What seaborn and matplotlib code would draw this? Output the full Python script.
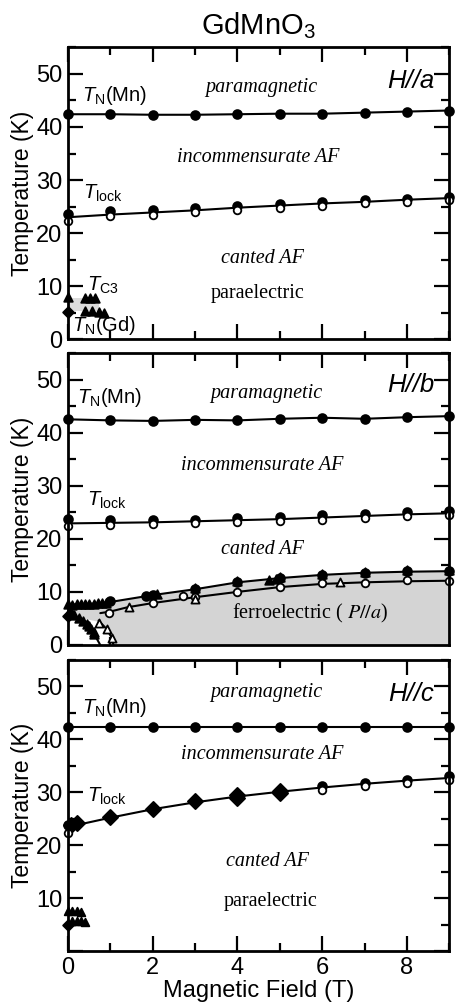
import matplotlib
matplotlib.use("Agg")
import matplotlib.pyplot as plt
from matplotlib.ticker import MultipleLocator, FuncFormatter
import seaborn as sns

# ---------------- H // a ----------------
a_H = [0, 1, 2, 3, 4, 5, 6, 7, 8, 9]
a_tn_T = [42.4, 42.4, 42.3, 42.3, 42.4, 42.5, 42.5, 42.7, 42.9, 43.1]
a_tlock_fill_T = [23.6, 24.1, 24.3, 24.7, 25.2, 25.5, 25.9, 26.2, 26.5, 26.9]
a_tlock_open_T = [22.3, 23.2, 23.5, 24.0, 24.4, 24.8, 25.2, 25.6, 25.9, 26.3]
a_tlock_line_T = [23.0, 23.5, 23.9, 24.3, 24.8, 25.2, 25.6, 25.9, 26.3, 26.6]
a_tc3_H = [0.0, 0.40, 0.52, 0.63]
a_tc3_T = [7.9, 7.7, 7.7, 7.7]
a_tngd_tri_H = [0.40, 0.56, 0.72, 0.85]
a_tngd_tri_T = [5.3, 5.3, 5.2, 5.0]
a_tngd_H = [0.0]
a_tngd_T = [5.1]
a_gray_H = [0.0, 0.72]
a_gray_top = [7.7, 7.7]
a_gray_bot = [5.3, 5.3]

# ---------------- H // b ----------------
b_H = [0, 1, 2, 3, 4, 5, 6, 7, 8, 9]
b_tn_T = [42.5, 42.3, 42.2, 42.4, 42.3, 42.6, 42.8, 42.6, 42.9, 43.1]
b_tlock_fill_T = [23.7, 23.6, 23.6, 23.6, 23.9, 24.1, 24.4, 24.7, 25.0, 25.3]
b_tlock_open_T = [22.4, 22.6, 22.8, 23.0, 23.2, 23.3, 23.6, 24.0, 24.2, 24.5]
b_tlock_line_T = [22.9, 23.0, 23.1, 23.3, 23.5, 23.7, 24.0, 24.3, 24.6, 24.8]
# upper ferroelectric boundary (filled symbols)
b_feup_H = [0.0, 0.3, 0.6, 1.0, 2.0, 3.0, 4.0, 5.0, 6.0, 7.0, 8.0, 9.0]
b_feup_T = [7.6, 7.7, 7.8, 8.1, 9.4, 10.5, 11.8, 12.6, 13.2, 13.6, 13.8, 13.9]
b_feup_circ_H = [1.0, 1.85, 2.0, 3.0, 4.0, 5.0, 6.0, 7.0, 8.0, 9.0]
b_feup_circ_T = [8.2, 9.2, 9.4, 10.5, 11.8, 12.6, 13.2, 13.6, 13.9, 13.9]
b_feup_tri_H = [0.0, 0.1, 0.2, 0.3, 0.4, 0.5, 0.6, 0.7, 0.8, 0.9,
                2.1, 3.0, 4.0, 4.75, 4.9, 5.0, 6.0, 7.0, 8.0, 9.0]
b_feup_tri_T = [7.7, 7.6, 7.7, 7.8, 7.8, 7.8, 7.8, 7.9, 7.9, 8.0,
                9.6, 10.7, 12.0, 12.2, 12.4, 12.8, 13.4, 13.8, 14.1, 14.1]
# lower ferroelectric boundary (open symbols)
b_felo_H = [0.76, 1.0, 1.4, 2.0, 3.0, 4.0, 5.0, 6.0, 7.0, 8.0, 9.0]
b_felo_T = [6.0, 6.3, 7.1, 7.9, 9.0, 10.0, 10.9, 11.5, 11.8, 12.0, 12.1]
b_felo_circ_H = [0.97, 2.0, 2.72, 3.0, 4.0, 5.0, 6.0, 7.0, 8.0, 9.0]
b_felo_circ_T = [6.1, 7.9, 9.3, 9.0, 10.0, 11.0, 11.6, 11.6, 12.2, 12.0]
b_felo_tri_H = [1.43, 3.0, 6.43, 0.72, 0.91, 1.03]
b_felo_tri_T = [7.1, 8.6, 11.8, 4.2, 3.0, 1.4]
# low-field descending boundaries
b_gd_tri_H = [0.05, 0.15, 0.25, 0.35, 0.45, 0.5, 0.55, 0.6, 0.62]
b_gd_tri_T = [6.6, 5.7, 5.0, 4.6, 4.0, 3.5, 3.0, 2.5, 2.0]
b_gd_line_H = [0.0, 0.3, 0.55, 0.76]
b_gd_line_T = [5.4, 4.6, 3.0, 0.0]
b_open_line_H = [0.72, 0.91, 1.03, 1.07]
b_open_line_T = [4.6, 3.0, 1.4, 0.0]
b_tngd_H = [0.0]
b_tngd_T = [5.4]
b_white_H = [0.0, 0.35, 0.70, 0.90, 1.07]
b_white_T = [5.5, 5.0, 4.4, 3.1, 0.0]

# ---------------- H // c ----------------
c_H = [0, 1, 2, 3, 4, 5, 6, 7, 8, 9]
c_tn_T = [42.3, 42.3, 42.3, 42.3, 42.3, 42.3, 42.3, 42.3, 42.3, 42.3]
c_circ_H = [0.0, 6.0, 7.0, 8.0, 9.0]
c_circ_fill_T = [23.8, 31.1, 31.8, 32.3, 33.0]
c_circ_open_T = [22.3, 30.4, 31.2, 31.8, 32.3]
c_dia_H = [0.08, 0.2, 1.0, 2.0, 3.0, 4.0, 4.0, 5.0, 5.0]
c_dia_T = [23.9, 24.1, 25.3, 26.9, 28.3, 29.0, 29.5, 29.9, 30.3]
c_tlock_line_H = [0.0, 0.2, 1.0, 2.0, 3.0, 4.0, 5.0, 6.0, 7.0, 8.0, 9.0]
c_tlock_line_T = [23.3, 23.8, 25.2, 26.8, 28.1, 29.2, 30.1, 30.9, 31.6, 32.2, 32.7]
c_tc3_H = [0.0, 0.1, 0.2, 0.3]
c_tc3_T = [7.5, 7.6, 7.6, 7.4]
c_tngd_tri_H = [0.1, 0.2, 0.3, 0.4]
c_tngd_tri_T = [5.6, 5.7, 5.6, 5.4]
c_tngd_H = [0.0]
c_tngd_T = [5.0]

field_ticks = [0, 2, 4, 6, 8]
temp_ticks = [0, 10, 20, 30, 40, 50]

# ---------------- style ----------------
sns.set_style("ticks")
plt.rcParams["font.family"] = ["Liberation Sans", "DejaVu Sans"]
plt.rcParams["mathtext.fontset"] = "custom"
plt.rcParams["mathtext.rm"] = "Liberation Sans"
plt.rcParams["mathtext.it"] = "Liberation Sans:italic"
plt.rcParams["mathtext.bf"] = "Liberation Sans:bold"
for key in ("text.color", "axes.labelcolor", "xtick.color", "ytick.color",
            "axes.edgecolor"):
    plt.rcParams[key] = "black"

INK = "black"
GRAY = "#d4d4d4"
LW = 1.5

fig = plt.figure(figsize=(4.57, 10.07), dpi=100)
left, width = 0.149, 0.834
ax_a = fig.add_axes([left, 0.663, width, 0.290])
ax_b = fig.add_axes([left, 0.3595, width, 0.290])
ax_c = fig.add_axes([left, 0.0556, width, 0.289])


def line(ax, x, y, z=2):
    sns.lineplot(x=x, y=y, ax=ax, color=INK, lw=LW, estimator=None,
                 sort=False, zorder=z)


def pts(ax, x, y, marker="o", s=40, filled=True, z=4):
    sns.scatterplot(x=x, y=y, ax=ax, marker=marker, s=s,
                    color=INK if filled else "white", edgecolor=INK,
                    linewidth=1.3, zorder=z, clip_on=False)


def frame(ax, xlabels):
    ax.set_xlim(0, 9)
    ax.set_ylim(0, 55)
    ax.xaxis.set_major_locator(MultipleLocator(2))
    ax.xaxis.set_minor_locator(MultipleLocator(1))
    ax.yaxis.set_major_locator(MultipleLocator(10))
    ax.yaxis.set_minor_locator(MultipleLocator(5))
    ax.tick_params(which="both", direction="in", top=True, right=True,
                   width=1.6, color=INK, labelcolor=INK, labelsize=17, pad=4)
    ax.tick_params(which="major", length=11)
    ax.tick_params(which="minor", length=5.5)
    for sp in ax.spines.values():
        sp.set_linewidth(2.0)
        sp.set_color(INK)
        sp.set_zorder(6)
    if not xlabels:
        ax.set_xticklabels([])
        ax.set_xlabel("")
    ax.set_ylabel("Temperature (K)", fontsize=16.5, labelpad=2, color=INK)


serif_it = dict(family="Liberation Serif", style="italic", fontsize=14.5,
                ha="center", va="center")
serif_up = dict(family="Liberation Serif", fontsize=14.5,
                ha="center", va="center")
tag = dict(style="italic", fontsize=18.5, ha="right", va="center")
lab = dict(fontsize=14.5, ha="left", va="center")

# ---------------- panel H//a ----------------
ax = ax_a
ax.fill_between(a_gray_H, a_gray_bot, a_gray_top, color="#dcdcdc", lw=0, zorder=1)
line(ax, a_H, a_tn_T)
line(ax, a_H, a_tlock_line_T)
pts(ax, a_H, a_tn_T)
pts(ax, a_H, a_tlock_fill_T)
pts(ax, a_H, a_tlock_open_T, filled=False, s=30, z=5)
pts(ax, a_tc3_H, a_tc3_T, marker="^", s=38)
pts(ax, a_tngd_tri_H, a_tngd_tri_T, marker="^", s=38)
pts(ax, a_tngd_H, a_tngd_T, marker="D", s=30)
frame(ax, False)
ax.text(4.56, 47.4, "paramagnetic", **serif_it)
ax.text(4.50, 34.3, "incommensurate AF", **serif_it)
ax.text(4.58, 15.3, "canted AF", **serif_it)
ax.text(4.48, 8.7, "paraelectric", **serif_up)
ax.text(8.65, 48.7, "H//a", **tag)
ax.text(0.33, 46.0, r"$T_{\rm N}$(Mn)", **lab)
ax.text(0.35, 27.5, r"$T_{\rm lock}$", **lab)
ax.text(0.45, 10.2, r"$T_{\rm C3}$", **lab)
ax.text(0.10, 2.6, r"$T_{\rm N}$(Gd)", **lab)

# ---------------- panel H//b ----------------
ax = ax_b
poly_H = b_feup_H + [9.0] + b_white_H[::-1]
poly_T = b_feup_T + [0.0] + b_white_T[::-1]
ax.fill(poly_H, poly_T, color=GRAY, lw=0, zorder=1)
line(ax, b_H, b_tn_T)
line(ax, b_H, b_tlock_line_T)
line(ax, b_feup_H, b_feup_T)
line(ax, b_felo_H, b_felo_T)
line(ax, b_gd_line_H, b_gd_line_T)
line(ax, b_open_line_H, b_open_line_T)
pts(ax, b_H, b_tn_T)
pts(ax, b_H, b_tlock_fill_T)
pts(ax, b_H, b_tlock_open_T, filled=False, s=30, z=5)
pts(ax, b_feup_circ_H, b_feup_circ_T)
pts(ax, b_feup_tri_H, b_feup_tri_T, marker="^", s=38)
pts(ax, b_felo_circ_H, b_felo_circ_T, filled=False, s=30, z=5)
pts(ax, b_felo_tri_H, b_felo_tri_T, marker="^", s=34, filled=False, z=5)
pts(ax, b_gd_tri_H, b_gd_tri_T, marker="^", s=38)
pts(ax, b_tngd_H, b_tngd_T, marker="D", s=30)
frame(ax, False)
ax.text(4.68, 47.3, "paramagnetic", **serif_it)
ax.text(4.58, 33.8, "incommensurate AF", **serif_it)
ax.text(4.58, 18.0, "canted AF", **serif_it)
ax.text(5.72, 6.0, r"ferroelectric ( $\mathit{P//a}$)", math_fontfamily="stix",
        **serif_up)
ax.text(8.65, 48.9, "H//b", **tag)
ax.text(0.22, 46.6, r"$T_{\rm N}$(Mn)", **lab)
ax.text(0.45, 27.2, r"$T_{\rm lock}$", **lab)

# ---------------- panel H//c ----------------
ax = ax_c
line(ax, c_H, c_tn_T)
line(ax, c_tlock_line_H, c_tlock_line_T)
pts(ax, c_H, c_tn_T)
pts(ax, c_circ_H, c_circ_fill_T)
pts(ax, c_circ_H, c_circ_open_T, filled=False, s=30, z=5)
pts(ax, c_dia_H, c_dia_T, marker="D", s=60)
pts(ax, c_tc3_H, c_tc3_T, marker="^", s=30)
pts(ax, c_tngd_tri_H, c_tngd_tri_T, marker="^", s=30)
pts(ax, c_tngd_H, c_tngd_T, marker="D", s=30)
frame(ax, True)
ax.set_xticks(field_ticks)
ax.yaxis.set_major_formatter(FuncFormatter(lambda v, p: "" if v == 0 else f"{v:.0f}"))
ax.set_xlabel("Magnetic Field (T)", fontsize=17, labelpad=1, color=INK)
ax.text(4.68, 48.9, "paramagnetic", **serif_it)
ax.text(4.58, 37.1, "incommensurate AF", **serif_it)
ax.text(4.70, 16.9, "canted AF", **serif_it)
ax.text(4.79, 9.4, "paraelectric", **serif_up)
ax.text(8.65, 48.6, "H//c", **tag)
ax.text(0.32, 46.0, r"$T_{\rm N}$(Mn)", **lab)
ax.text(0.44, 29.3, r"$T_{\rm lock}$", **lab)

for a in (ax_a, ax_b):
    a.set_yticks(temp_ticks)

fig.text(0.5657, 0.975, r"GdMnO$_3$", fontsize=21, ha="center", va="center",
         color=INK)

fig.savefig("out.png", dpi=100)
